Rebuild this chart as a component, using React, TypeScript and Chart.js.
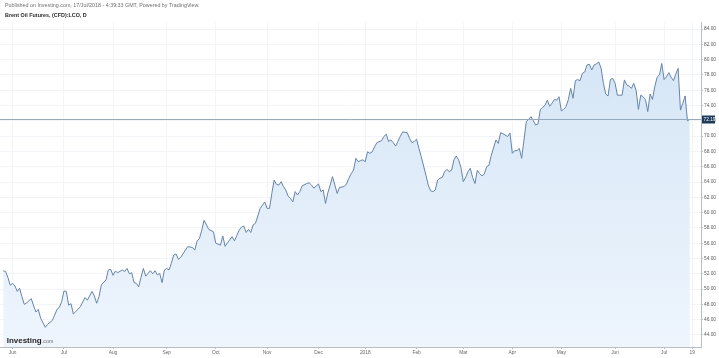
import React, { useEffect, useRef } from "react";
import { Chart, registerables } from "chart.js";

Chart.register(...registerables);

// Trading-day index (0 = 26 May 2017) and daily close of Brent Oil Futures
const tradingDays = [
  0, 1, 2, 3, 4, 5, 6, 7, 8, 9, 10, 12, 13, 14, 15, 16, 18, 19, 21, 22, 23, 24, 25, 26, 27, 28, 29, 30, 31, 33, 35, 36, 38, 39, 40, 41, 42, 44, 45, 46, 47, 48, 49, 51, 52,
  53, 54, 55, 56, 57, 58, 59, 60, 61, 62, 63, 64, 65, 66, 67, 68, 69, 70, 71, 72, 73, 74, 75, 76, 78, 79, 81, 82, 83, 84, 85, 86, 87, 88, 90, 91, 93, 94, 95, 96, 98, 99, 100, 101, 102,
  103, 104, 105, 106, 107, 108, 109, 110, 112, 113, 114, 115, 116, 117, 118, 119, 120, 121, 122, 123, 124, 125, 126, 127, 128, 130, 131, 132, 133, 135, 136, 137, 138, 139, 140, 141, 142, 143, 144, 146, 147, 148, 149, 150, 151, 152, 153,
  154, 155, 156, 157, 158, 159, 160, 162, 163, 164, 165, 166, 167, 168, 169, 170, 171, 173, 174, 175, 176, 177, 178, 179, 180, 181, 182, 183, 184, 185, 186, 187, 188, 189, 190, 191, 192, 193, 194, 195, 196, 197, 198, 199, 200, 201, 202, 203, 204,
  205, 206, 207, 208, 209, 211, 212, 213, 214, 216, 217, 218, 219, 220, 221, 222, 223, 224, 225, 226, 227, 228, 229, 230, 231, 232, 233, 234, 235, 236, 237, 238, 239, 240, 241, 242, 243, 244, 245, 246, 247, 248, 249, 250, 251, 252, 253, 254, 255, 256,
  257, 258, 259, 260, 261, 262, 263, 264, 265, 266, 267, 268, 269, 270, 271, 272, 273, 274, 275, 276, 277, 278, 279, 280, 281, 282, 283, 284, 285, 286, 287, 288, 289, 290, 291, 292, 293, 294,
];

const closes = [
  52.4, 52.3, 51.5, 50.5, 50.75, 50.4, 49.7, 50.1, 49.0, 48.0, 48.2, 48.75, 47.8, 47.0, 47.35, 46.2, 45.0, 45.4, 45.9, 46.6, 47.35, 47.6, 48.35, 49.75, 49.7, 47.9, 48.1, 46.75, 47.05, 47.7, 48.9, 48.55, 49.7, 49.1, 48.15, 49.0, 50.55, 51.2, 52.5, 52.6, 51.8, 52.35, 52.15, 52.5, 52.3,
  52.7, 52.0, 52.15, 50.85, 50.75, 50.3, 51.55, 52.7, 51.7, 52.05, 52.4, 52.0, 52.4, 51.85, 52.05, 50.85, 52.5, 52.7, 52.5, 53.4, 54.45, 54.6, 53.9, 54.15, 55.1, 55.55, 55.45, 55.1, 56.3, 56.6, 57.7, 59.0, 58.4, 57.8, 57.5, 56.0, 55.75, 56.95, 55.6, 56.05, 56.85, 56.3, 57.0, 57.7, 58.1,
  58.25, 57.4, 57.8, 57.4, 58.4, 58.6, 59.55, 60.55, 61.4, 60.55, 60.55, 62.5, 64.25, 63.7, 63.6, 64.05, 63.4, 62.95, 62.15, 61.85, 61.4, 62.75, 62.3, 62.75, 63.5, 63.8, 63.9, 63.6, 63.2, 63.75, 62.75, 62.95, 61.2, 62.6, 63.6, 64.7, 63.6, 62.5, 63.3, 63.4, 63.75, 64.5, 65.1, 65.55, 67.1, 66.65, 66.8,
  66.9, 66.65, 67.95, 67.75, 67.95, 68.6, 69.15, 69.4, 69.95, 70.25, 69.3, 69.5, 69.15, 68.7, 69.3, 69.95, 70.55, 70.45, 69.7, 69.15, 69.3, 69.6, 68.4, 67.3, 66.1, 64.9, 63.6, 62.85, 62.75, 62.95, 64.25, 64.5, 64.6, 65.35, 65.65, 65.35, 65.55, 66.9, 67.4, 66.9, 65.9, 64.05, 64.6, 65.35, 65.8, 64.6, 63.8, 65.5, 65.1,
  64.8, 65.05, 66.0, 66.2, 67.5, 69.5, 69.05, 70.45, 70.3, 69.95, 70.4, 67.75, 68.1, 68.1, 68.4, 67.1, 69.5, 71.9, 72.2, 72.55, 72.0, 71.45, 71.6, 73.5, 73.75, 74.05, 74.7, 73.9, 74.3, 74.8, 74.7, 75.15, 73.3, 73.5, 73.85, 74.8, 76.25, 74.95, 77.25, 77.4, 77.25, 78.2, 78.4, 79.3, 79.4, 78.65, 79.3, 79.45, 79.7, 78.9,
  76.9, 75.5, 75.25, 77.4, 77.55, 76.9, 75.35, 75.35, 75.35, 77.35, 76.7, 76.55, 76.25, 76.9, 76.0, 73.5, 75.35, 75.15, 74.8, 73.2, 75.5, 74.8, 76.45, 77.7, 78.0, 79.5, 77.4, 77.75, 78.3, 77.7, 77.25, 78.1, 78.85, 73.4, 74.3, 75.25, 72.0, 72.19,
];

const monthTickDays = [4, 26, 47, 70, 91, 113, 135, 155, 177, 197, 218, 239, 262, 283, 295];
const monthTickLabels = ["Jun", "Jul", "Aug", "Sep", "Oct", "Nov", "Dec", "2018", "Feb", "Mar", "Apr", "May", "Jun", "Jul", "19"];
const priceTicks = [44, 46, 48, 50, 52, 54, 56, 58, 60, 62, 64, 66, 68, 70, 72, 74, 76, 78, 80, 82, 84];
const lastPrice = 72.19;

const headerText = "Published on Investing.com, 17/Jul/2018 - 4:39:33 GMT, Powered by TradingView.";
const titleText = "Brent Oil Futures, (CFD):LCO, D";

const FONT = '"Liberation Sans", Arial, sans-serif';

function fitText(
  ctx: CanvasRenderingContext2D,
  text: string,
  x: number,
  y: number,
  width: number,
  weight: string,
  color: string,
  baseline: CanvasTextBaseline
) {
  ctx.font = `${weight} 10px ${FONT}`;
  const w = ctx.measureText(text).width;
  const size = (10 * width) / w;
  ctx.font = `${weight} ${size}px ${FONT}`;
  ctx.fillStyle = color;
  ctx.textAlign = "left";
  ctx.textBaseline = baseline;
  ctx.fillText(text, x, y);
}

const overlayPlugin = {
  id: "overlay",
  afterDatasetsDraw(chart: any) {
    const { ctx, chartArea } = chart;
    const y = Math.round(chart.scales.y.getPixelForValue(lastPrice)) + 0.5;
    ctx.save();
    ctx.strokeStyle = "#97a9bc";
    ctx.lineWidth = 1;
    ctx.beginPath();
    ctx.moveTo(chartArea.left, y);
    ctx.lineTo(chartArea.right, y);
    ctx.stroke();
    ctx.restore();
  },
  afterDraw(chart: any) {
    const { ctx, chartArea } = chart;
    ctx.save();
    const y = Math.round(chart.scales.y.getPixelForValue(lastPrice)) + 0.5;
    ctx.fillStyle = "#1d3b5b";
    ctx.fillRect(chartArea.right + 1, y - 4, 13, 8);
    ctx.fillStyle = "#ffffff";
    ctx.font = `4.8px ${FONT}`;
    ctx.textAlign = "left";
    ctx.textBaseline = "middle";
    ctx.fillText(lastPrice.toFixed(2), chartArea.right + 2.5, y + 0.3);

    fitText(ctx, headerText, 5, 6, 195, "normal", "#6f6f6f", "middle");
    fitText(ctx, titleText, 5, 15.5, 82, "bold", "#2a2a2a", "middle");

    fitText(ctx, "Investing", 6.7, 342.5, 35, "bold", "#1e1e1e", "alphabetic");
    fitText(ctx, ".com", 41.9, 342.5, 11.4, "normal", "#6a6a6a", "alphabetic");
    ctx.restore();
  },
};

export default function App() {
  const canvasRef = useRef<HTMLCanvasElement | null>(null);

  useEffect(() => {
    document.body.style.margin = "0";
    const canvas = canvasRef.current;
    if (!canvas) return;
    const points = tradingDays.map((d, i) => ({ x: d, y: closes[i] }));

    const chart = new Chart(canvas, {
      type: "line",
      data: {
        datasets: [
          {
            data: points,
            borderColor: "#6584a8",
            borderWidth: 1,
            pointRadius: 0,
            tension: 0,
            fill: "start",
            backgroundColor: (c: any) => {
              const ch = c.chart;
              const ca = ch.chartArea;
              if (!ca) return "#e3eefa";
              const g = ch.ctx.createLinearGradient(0, ca.top, 0, ca.bottom);
              g.addColorStop(0, "#d3e4f5");
              g.addColorStop(1, "#eef5fd");
              return g;
            },
          },
        ],
      },
      options: {
        animation: false,
        responsive: false,
        maintainAspectRatio: false,
        layout: { padding: { top: 22, left: 0, right: 0, bottom: 0 } },
        plugins: {
          legend: { display: false },
          tooltip: { enabled: false },
        },
        scales: {
          x: {
            type: "linear",
            min: -1.4,
            max: 298.8,
            afterBuildTicks: (s: any) => {
              s.ticks = monthTickDays.map((v) => ({ value: v }));
            },
            afterFit: (s: any) => {
              s.height = 11;
            },
            ticks: {
              autoSkip: false,
              maxRotation: 0,
              padding: 1,
              color: "#666666",
              font: { size: 4.8, family: FONT },
              callback: (v: any) => {
                const i = monthTickDays.indexOf(Number(v));
                return i >= 0 ? monthTickLabels[i] : "";
              },
            },
            grid: { color: "#f2f4f7", tickLength: 2, tickColor: "#b7bec6" },
            border: { color: "#b7bec6" },
          },
          y: {
            position: "right",
            min: 42.43,
            max: 84.92,
            afterBuildTicks: (s: any) => {
              s.ticks = priceTicks.map((v) => ({ value: v }));
            },
            afterFit: (s: any) => {
              s.width = 18;
            },
            ticks: {
              autoSkip: false,
              padding: 1,
              color: "#5a5a5a",
              font: { size: 4.8, family: FONT },
              callback: (v: any) => Number(v).toFixed(2),
            },
            grid: { color: "#f2f4f7", tickLength: 2, tickColor: "#b7bec6" },
            border: { color: "#b7bec6" },
          },
        },
      },
      plugins: [overlayPlugin],
    } as any);

    return () => {
      chart.destroy();
    };
  }, []);

  return (
    <div style={{ position: "fixed", left: 0, top: 0, width: 719, height: 358, background: "#ffffff" }}>
      <canvas ref={canvasRef} width={719} height={358} style={{ display: "block", width: 719, height: 358 }} />
    </div>
  );
}
